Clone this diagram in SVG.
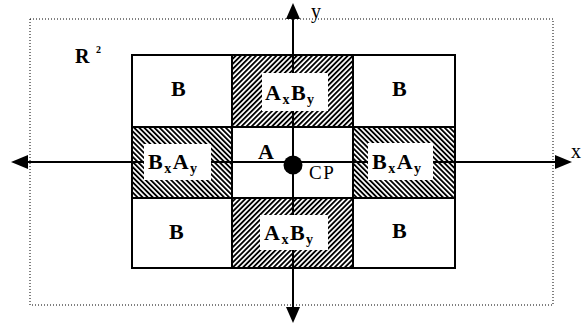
<svg xmlns="http://www.w3.org/2000/svg" width="582" height="324" viewBox="0 0 582 324">
  <defs>
    <!-- "/" hatching for the vertical product cells -->
    <pattern id="hatchUp" width="3.6" height="3.6" patternUnits="userSpaceOnUse" patternTransform="rotate(45)">
      <rect width="3.6" height="3.6" fill="#fff"/>
      <line x1="0" y1="0" x2="0" y2="3.6" stroke="#000" stroke-width="3.6" stroke-dasharray="none" transform="translate(0.9 0)" style="stroke-width:1.9px"/>
    </pattern>
    <!-- "\" hatching for the horizontal product cells -->
    <pattern id="hatchDown" width="3.6" height="3.6" patternUnits="userSpaceOnUse" patternTransform="rotate(-45)">
      <rect width="3.6" height="3.6" fill="#fff"/>
      <line x1="0.9" y1="0" x2="0.9" y2="3.6" stroke="#000" style="stroke-width:1.9px"/>
    </pattern>
  </defs>
  <style>
    .cell { stroke: #000; stroke-width: 2; }
    .plain { fill: #fff; }
    .up { fill: url(#hatchUp); }
    .down { fill: url(#hatchDown); }
    .label { fill: #fff; stroke: none; }
    .t { font-family: "Liberation Serif", "Times New Roman", serif; fill: #000; }
    .big { font-size: 22px; font-weight: bold; }
    .sub { font-size: 14px; }
    .axis { stroke: #000; stroke-width: 2; fill: none; }
    .head { fill: #000; }
  </style>
  <rect width="582" height="324" fill="#fff"/>

  <!-- region R^2 -->
  <g id="region">
    <rect x="30" y="19" width="523" height="286" fill="none" stroke="#000" stroke-width="1" stroke-dasharray="1 2"/>
    <text class="t" x="75" y="63" style="font-size:20px;font-weight:bold">R</text>
    <text class="t" x="96" y="53" style="font-size:10px;font-weight:bold">2</text>
  </g>

  <!-- 3x3 grid cells -->
  <g id="cell-b-tl"><rect class="cell plain" x="132" y="55" width="100" height="72"/></g>
  <g id="cell-b-tr"><rect class="cell plain" x="353" y="55" width="102" height="72"/></g>
  <g id="cell-b-bl"><rect class="cell plain" x="132" y="198" width="100" height="70"/></g>
  <g id="cell-b-br"><rect class="cell plain" x="353" y="198" width="102" height="70"/></g>
  <g id="cell-axby-top"><rect class="cell up" x="232" y="55" width="121" height="72"/></g>
  <g id="cell-axby-bottom"><rect class="cell up" x="232" y="198" width="121" height="70"/></g>
  <g id="cell-bxay-left"><rect class="cell down" x="132" y="127" width="100" height="71"/></g>
  <g id="cell-bxay-right"><rect class="cell down" x="353" y="127" width="102" height="71"/></g>
  <g id="cell-a"><rect class="cell plain" x="232" y="127" width="121" height="71"/></g>

  <!-- coordinate axes -->
  <g id="connectors">
    <line class="axis" x1="293" y1="310" x2="293" y2="16"/>
    <path class="head" d="M293,3 L286,19 L300,19 Z"/>
    <path class="head" d="M293,323 L286,307 L300,307 Z"/>
    <line class="axis" x1="24" y1="162" x2="560" y2="162"/>
    <path class="head" d="M11,162 L28,155 L28,169 Z"/>
    <path class="head" d="M572,162 L555,155 L555,169 Z"/>
  </g>

  <!-- label boxes over the hatching -->
  <g id="labels">
    <rect class="label" x="262" y="73" width="66" height="38"/>
    <rect class="label" x="260" y="215" width="68" height="35"/>
    <rect class="label" x="144" y="144" width="67" height="36"/>
    <rect class="label" x="368" y="143" width="65" height="37"/>
  </g>

  <!-- origin -->
  <g id="cp">
    <circle cx="293" cy="165" r="9.5" fill="#000"/>
    <text class="t" x="309" y="179" style="font-size:19px;letter-spacing:1.5px">CP</text>
  </g>

  <!-- cell texts -->
  <g id="texts">
    <text class="t big" x="171" y="96">B</text>
    <text class="t big" x="392" y="96">B</text>
    <text class="t big" x="169" y="239">B</text>
    <text class="t big" x="392" y="238">B</text>
    <text class="t big" x="258" y="159">A</text>

    <text class="t big" x="265" y="100" style="letter-spacing:1.5px">A<tspan class="sub" dy="4">x</tspan><tspan dy="-4">B</tspan><tspan class="sub" dy="4">y</tspan></text>
    <text class="t big" x="264" y="240" style="letter-spacing:1.5px">A<tspan class="sub" dy="4">x</tspan><tspan dy="-4">B</tspan><tspan class="sub" dy="4">y</tspan></text>
    <text class="t big" x="148" y="169" style="letter-spacing:1.5px">B<tspan class="sub" dy="4">x</tspan><tspan dy="-4">A</tspan><tspan class="sub" dy="4">y</tspan></text>
    <text class="t big" x="372" y="169" style="letter-spacing:1.5px">B<tspan class="sub" dy="4">x</tspan><tspan dy="-4">A</tspan><tspan class="sub" dy="4">y</tspan></text>

    <text class="t" x="311" y="18" style="font-size:20px">y</text>
    <text class="t" x="571" y="158" style="font-size:20px">x</text>
  </g>
</svg>
